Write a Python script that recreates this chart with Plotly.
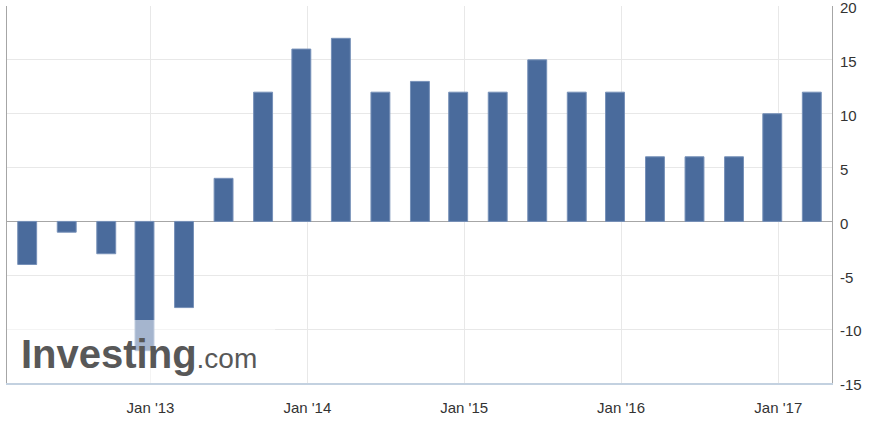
import plotly.graph_objects as go

# Quarterly release dates (mid/late in the last month of each quarter)
dates = [
    "2012-03-20", "2012-06-20", "2012-09-20", "2012-12-18",
    "2013-03-20", "2013-06-20", "2013-09-20", "2013-12-18",
    "2014-03-20", "2014-06-20", "2014-09-20", "2014-12-18",
    "2015-03-20", "2015-06-20", "2015-09-20", "2015-12-18",
    "2016-03-20", "2016-06-20", "2016-09-20", "2016-12-18",
    "2017-03-20",
]
values = [-4, -1, -3, -12, -8, 4, 12, 16, 17, 12, 13, 12, 12, 15, 12, 12, 6, 6, 6, 10, 12]
y_tick_values = [-15, -10, -5, 0, 5, 10, 15, 20]
y_tick_labels = [str(v) for v in y_tick_values]

bar_color = "#4a6b9c"
day_ms = 86400000

fig = go.Figure(
    go.Bar(
        x=dates,
        y=values,
        width=[44 * day_ms] * len(values),
        marker=dict(color=bar_color, line=dict(color="#7690b8", width=1)),
        hoverinfo="x+y",
    )
)

fig.update_layout(
    width=886,
    height=431,
    margin=dict(l=7, r=54, t=6, b=48, autoexpand=False),
    paper_bgcolor="white",
    plot_bgcolor="white",
    showlegend=False,
    font=dict(family="Liberation Sans, Arial, sans-serif", color="#333333"),
    xaxis=dict(
        type="date",
        range=["2012-02-02", "2017-05-06"],
        tick0="2013-01-01",
        dtick="M12",
        tickformat="%b '%y",
        showgrid=True,
        gridcolor="#e8e8e8",
        gridwidth=1,
        showline=True,
        linecolor="#c3d1e0",
        linewidth=2,
        ticks="",
        ticklabelstandoff=10,
        tickfont=dict(size=15, color="#333333"),
        zeroline=False,
        automargin=False,
    ),
    yaxis=dict(
        side="right",
        range=[-15.001, 20.001],
        tickmode="array",
        tickvals=y_tick_values,
        ticktext=y_tick_labels,
        ticklabeloverflow="allow",
        ticklabelshift=2,
        showgrid=True,
        gridcolor="#e8e8e8",
        gridwidth=1,
        zeroline=True,
        zerolinecolor="#a6a6a6",
        zerolinewidth=1,
        showline=True,
        mirror=True,
        linecolor="#a6a6a6",
        linewidth=1,
        ticks="",
        ticklabelstandoff=4,
        tickfont=dict(size=15, color="#333333"),
        automargin=False,
    ),
    shapes=[
        dict(
            type="rect", xref="paper", yref="paper", layer="above",
            x0=0.0, x1=0.325, y0=0.0, y1=0.167,
            fillcolor="rgba(255,255,255,0.5)", line=dict(width=0),
        )
    ],
    annotations=[
        dict(
            xref="paper", yref="paper", x=0.014, y=0.078,
            xanchor="left", yanchor="middle", showarrow=False,
            text="<b>Investing</b><span style='font-size:28px'>.com</span>",
            font=dict(family="Liberation Sans, Arial, sans-serif", size=40, color="#585858"),
        )
    ],
)

fig.write_html(
    "out.html",
    config={"displayModeBar": False},
    post_script="document.body.style.margin='0';document.body.style.overflow='hidden';",
)
